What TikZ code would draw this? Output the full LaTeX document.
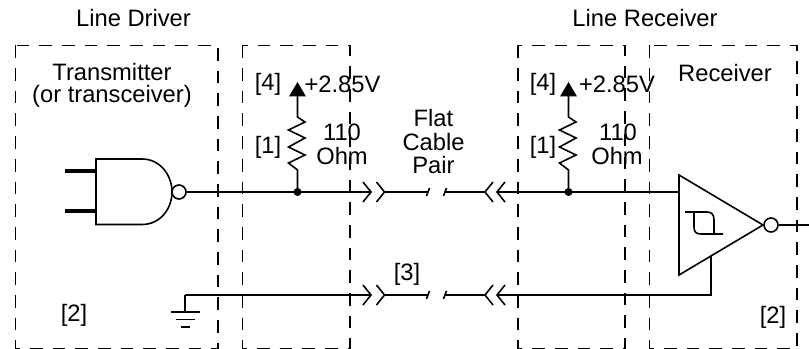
\documentclass[tikz,border=0pt]{standalone}
\usepackage{fontspec}
\setmainfont{Liberation Sans}
\newcommand{\plugright}[1]{\draw (#1) ++(-8,-10) -- ++(8,10) -- ++(-8,10);}
\newcommand{\plugleft}[1]{\draw (#1) ++(8,-10) -- ++(-8,10) -- ++(8,10);}
\newcommand{\breakmark}[1]{\draw (#1) ++(1.5,-4) to[out=-120,in=60] ++(-3,8);}
\newcommand{\pullup}[1]{%
\draw (#1) -- ++(0,-22) -- ++(-9,-7) -- ++(16.5,-8) -- ++(-16.5,-8) -- ++(16.5,-9) -- ++(-16.5,-8) -- ++(16.5,-8) -- ++(-7.5,-5) -- ++(0,-21);
\fill (#1) circle (4);
\fill (#1) ++(0,-110) -- ++(8.5,14.5) -- ++(-17,0) -- cycle;}

\tikzset{
  lbl/.style={font=\fontsize{17.8}{20}\selectfont, inner sep=0pt},
  bubble/.style={draw, circle, fill=white, inner sep=0pt, minimum size=10.5pt},
  zone/.style={line width=1.1pt, dash pattern=on 9.5pt off 7.5pt},
}

\begin{document}
\begin{tikzpicture}[x=0.75pt,y=-0.75pt,line width=1.2pt]
\useasboundingbox (0,0) rectangle (809,349);

% Dashed zones
\draw[zone] (15.5,45.5) rectangle (218,348.5);
\draw[zone] (242.5,45.5) rectangle (350,348.5);
\draw[zone] (518,45.5) rectangle (625,348.5);
\draw[zone] (649.5,45.5) rectangle (797,348.5);

% Titles
\node[lbl] (driver) at (133.5,18) {Line Driver};
\node[lbl] (receiver) at (645,18) {Line Receiver};
\node[lbl] (tx) at (112,72) {Transmitter};
\node[lbl] (txnote) at (112,96) {(or transceiver)};
\node[lbl] (rx) at (725,73) {Receiver};
\node[lbl] (flat) at (433.5,118) {Flat};
\node[lbl] (cable) at (433.5,142) {Cable};
\node[lbl] (pair) at (433.5,165) {Pair};

% Notes
\node[lbl] (noteA) at (74,315) {[2]};
\node[lbl] (noteB) at (773,317) {[2]};
\node[lbl] (noteC) at (407,274) {[3]};

% Driver gate
\draw (96,159) -- (142,159) .. controls (160,159) and (172,175) .. (172,192)
  .. controls (172,209) and (160,224.5) .. (142,224.5) -- (96,224.5) -- cycle;
\draw[line width=3pt] (65,171) -- (96,171);
\draw[line width=3pt] (65,211) -- (96,211);
\node[bubble] (txout) at (179,192) {};

% Receiver gate
\draw (679,175) -- (763,225) -- (679,275) -- cycle;
\node[bubble] (rxout) at (771,225) {};
\coordinate (rxend) at (809,225);
\draw (rxout) -- (rxend);
\draw (685,212) -- (707,212) .. controls (712,212) and (714,215) .. (714,220) -- (714,234);
\draw (694,212) -- (694,227) .. controls (694,232) and (696,234) .. (701,234) -- (723,234);

% Junctions on the pair
\coordinate (jl) at (297.5,192);
\coordinate (jr) at (568.5,192);
\coordinate (rxin) at (679,192);

% Signal wire
\coordinate (pa) at (371,192);
\coordinate (pb) at (384.5,192);
\coordinate (pc) at (428,192);
\coordinate (pd) at (445,192);
\coordinate (pe) at (485,192);
\coordinate (pf) at (497,192);
\draw (txout) -- (pa);
\plugright{pa}
\plugright{pb}
\draw (pb) -- (pc);
\breakmark{pc}
\breakmark{pd}
\draw (pd) -- (pe);
\plugleft{pe}
\plugleft{pf}
\draw (pf) -- (rxin);

% Return wire
\coordinate (gnd) at (185,295);
\coordinate (ra) at (371,295);
\coordinate (rb) at (384.5,295);
\coordinate (rc) at (428,295);
\coordinate (rd) at (445,295);
\coordinate (re) at (485,295);
\coordinate (rf) at (497,295);
\coordinate (rxgnd) at (711,256);
\draw (gnd) -- (ra);
\plugright{ra}
\plugright{rb}
\draw (rb) -- (rc);
\breakmark{rc}
\breakmark{rd}
\draw (rd) -- (re);
\plugleft{re}
\plugleft{rf}
\draw (rf) -| (rxgnd);

% Ground
\draw (gnd) -- ++(0,17);
\draw (171,312) -- (200,312);
\draw (176,319.5) -- (195,319.5);
\draw (181,327) -- (190,327);

% Terminators
\pullup{jl}
\pullup{jr}
\node[lbl] (railL) at (342.5,84) {+2.85V};
\node[lbl] (railR) at (617,84) {+2.85V};
\node[lbl] (noteDL) at (268,84) {[4]};
\node[lbl] (noteDR) at (543,84) {[4]};
\node[lbl] (noteEL) at (268,147) {[1]};
\node[lbl] (noteER) at (543,147) {[1]};
\node[lbl] (ohmvalL) at (342,132) {110};
\node[lbl] (ohmL) at (342,156) {Ohm};
\node[lbl] (ohmvalR) at (618,132) {110};
\node[lbl] (ohmR) at (617,156) {Ohm};

\end{tikzpicture}
\end{document}
